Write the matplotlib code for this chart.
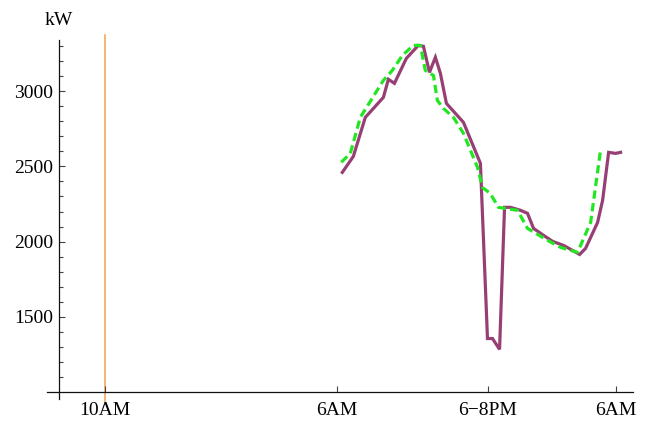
import matplotlib
matplotlib.use("Agg")
import matplotlib.pyplot as plt

# hours since 10AM (day 1) -> kW
purple_h = [20.45, 21.4, 22.43, 23.99, 24.42, 24.94, 25.97, 27.0, 27.44, 27.96,
            28.47, 28.9, 29.42, 30.89, 32.35, 32.96, 33.39, 34.0, 34.43, 34.94,
            35.81, 36.41, 36.93, 37.79, 38.57, 39.52, 40.29, 40.9, 41.41, 41.85,
            42.45, 42.88, 43.4, 44.0, 44.43]
purple_kw = [2460, 2566, 2825, 2958, 3078, 3051, 3217, 3303, 3297, 3124,
             3224, 3118, 2918, 2792, 2520, 1357, 1357, 1285, 2228, 2228,
             2208, 2188, 2088, 2042, 2002, 1975, 1942, 1915, 1955, 2028,
             2128, 2274, 2593, 2586, 2593]

green_h = [20.36, 21.14, 22.0, 23.99, 24.76, 25.63, 26.57, 27.18, 27.6, 28.3,
           28.64, 29.16, 30.03, 30.89, 32.1, 32.53, 33.2, 33.9, 35.55, 36.41,
           38.13, 39.26, 40.72, 41.85, 42.7]
green_kw = [2527, 2586, 2825, 3071, 3137, 3237, 3303, 3303, 3137, 3104,
            2938, 2885, 2825, 2719, 2493, 2360, 2320, 2228, 2208, 2088,
            2009, 1962, 1929, 2128, 2606]

marker_h = 0  # 10AM
tick_pos = [0, 20, 33, 44]
tick_lab = ["10AM", "6AM", "6\u22128PM", "6AM"]
ytick_pos = [1500, 2000, 2500, 3000]

plt.rcParams["font.family"] = ["Liberation Serif", "DejaVu Serif"]

fig = plt.figure(figsize=(6.46, 4.21), dpi=100)
ax = fig.add_axes([47 / 646, 1 - 392.3 / 421, 586 / 646, 357.3 / 421])
ax.set_xlim(-5, 45.5)
ax.set_ylim(1000, 3372)

ax.axvline(marker_h, ymin=-0.028, ymax=1, color="#f5a050", lw=1.1,
           clip_on=False, zorder=1)
ax.plot(purple_h, purple_kw, color="#973f74", lw=2.3, solid_joinstyle="miter",
        zorder=3)
ax.plot(green_h, green_kw, color="#22e622", lw=2.3, dashes=(2.6, 1.4), zorder=4)

for s in ("top", "right"):
    ax.spines[s].set_visible(False)
ax.spines["left"].set_position(("data", -4))
ax.spines["left"].set_bounds(955, 3340)
ax.spines["left"].set_clip_on(False)
ax.spines["bottom"].set_position(("data", 1000))
for s in ("left", "bottom"):
    ax.spines[s].set_color("#111111")
    ax.spines[s].set_linewidth(0.9)

ax.set_xticks(tick_pos)
ax.set_xticklabels(tick_lab)
ax.set_yticks(ytick_pos)
ax.set_yticks([v for v in range(1100, 3400, 100) if v not in ytick_pos], minor=True)
ax.tick_params(axis="both", which="major", direction="in", length=4.5, width=0.8,
               color="#444444", labelsize=14, pad=4)
ax.tick_params(axis="x", which="major", pad=7)
ax.tick_params(axis="y", which="minor", direction="in", length=3, width=0.8,
               color="#444444")

ax.text(-4, 3470, "kW", ha="center", va="center", fontsize=14)

fig.savefig("out.png", dpi=100)
